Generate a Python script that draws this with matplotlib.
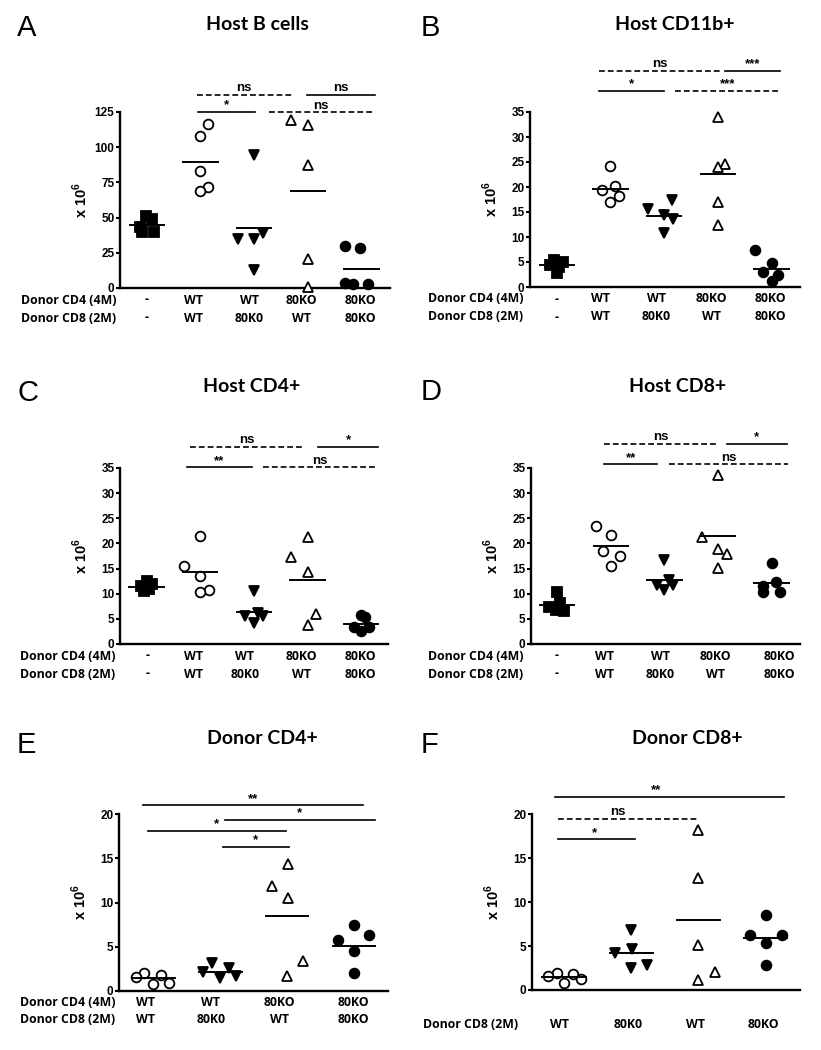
import numpy as np
import matplotlib.pyplot as plt

plt.rcParams['font.family'] = ['Liberation Sans', 'DejaVu Sans']
plt.rcParams['mathtext.fontset'] = 'custom'
plt.rcParams['mathtext.rm'] = 'Liberation Sans'
plt.rcParams['mathtext.bf'] = 'Liberation Sans:bold'

# group labels under the x axis
cd4_5 = ['-', 'WT', 'WT', '80KO', '80KO']
cd8_5 = ['-', 'WT', '80K0', 'WT', '80KO']
cd4_4 = ['WT', 'WT', '80KO', '80KO']
cd8_4 = ['WT', '80K0', 'WT', '80KO']

# cell numbers (x 10^6), one list per group, and the drawn mean of each group
host_b = [[51.3, 48.9, 43.3, 39.8, 39.8],
          [116.7, 108, 82.9, 71.7, 68.7],
          [94.7, 39, 35, 35, 13],
          [119, 116, 87.6, 20.6, 1],
          [30, 28.4, 3.5, 2.5, 2.5]]
host_b_mean = [44.7, 89.5, 42.6, 69, 13.7]

host_cd11b = [[5.5, 5.0, 4.5, 4.0, 2.8],
              [24.2, 20.2, 19.5, 18.2, 17],
              [17.4, 15.7, 14.4, 13.7, 10.8],
              [34, 24.7, 24, 17, 12.4],
              [7.4, 4.8, 3.1, 2.5, 1.3]]
host_cd11b_mean = [4.45, 19.7, 14.2, 22.6, 3.6]

host_cd4 = [[12.5, 12, 11.5, 11, 10.5],
            [21.4, 15.5, 13.6, 10.7, 10.3],
            [10.5, 6.2, 5.5, 5.5, 4.2],
            [21.3, 17.3, 14.4, 6, 3.8],
            [5.8, 5.4, 3.3, 3.3, 2.6]]
host_cd4_mean = [11.4, 14.4, 6.3, 12.7, 4.0]

host_cd8 = [[10.3, 8.2, 7.3, 6.8, 6.6],
            [23.5, 21.7, 18.4, 17.5, 15.6],
            [16.8, 12.8, 11.8, 11.8, 10.8],
            [33.7, 21.2, 18.9, 17.9, 15.1],
            [16.2, 12.4, 11.6, 10.3, 10.3]]
host_cd8_mean = [7.8, 19.4, 12.7, 21.4, 12.1]

donor_cd4 = [[1.97, 1.8, 1.6, 0.83, 0.76],
             [3.1, 2.6, 2.1, 1.7, 1.4],
             [14.4, 11.9, 10.5, 3.4, 1.7],
             [7.45, 6.3, 5.7, 4.5, 1.97]]
donor_cd4_mean = [1.4, 2.15, 8.5, 5.1]

donor_cd8 = [[1.97, 1.8, 1.6, 1.25, 0.76],
             [6.8, 4.7, 4.2, 2.8, 2.5],
             [18.2, 12.7, 5.1, 2.1, 1.1],
             [8.5, 6.3, 6.3, 5.4, 2.8]]
donor_cd8_mean = [1.45, 4.2, 8.0, 5.9]

# significance bars: (y, x from, x to, text, dashed, text x)
bars_a = [(137.3, 1.93, 3.70, 'ns', True, None), (137.3, 3.98, 5.25, 'ns', False, None),
          (125, 1.96, 3.02, '*', False, None), (125, 3.27, 5.22, 'ns', True, None)]
bars_b = [(43.3, 1.78, 4.07, 'ns', True, None), (43.3, 4.14, 5.16, '***', False, None),
          (39.2, 1.78, 2.99, '*', False, None), (39.2, 3.2, 5.16, '***', True, None)]
bars_c = [(39.2, 1.81, 3.92, 'ns', True, None), (39.2, 4.2, 5.32, '*', False, None),
          (35.1, 1.75, 2.96, '**', False, None), (35.1, 3.17, 5.29, 'ns', True, None)]
bars_d = [(39.8, 1.87, 4.0, 'ns', True, None), (39.8, 4.16, 5.28, '*', False, None),
          (35.7, 1.87, 2.87, '**', False, None), (35.7, 3.09, 5.31, 'ns', True, None)]
bars_e = [(21.0, 0.85, 4.14, '**', False, None), (19.4, 2.075, 4.31, '*', False, None),
          (18.1, 0.915, 2.985, '*', False, None), (16.3, 2.04, 3.025, '*', False, None)]
bars_f = [(22.0, 0.866, 4.27, '**', False, 2.37), (19.5, 0.915, 2.99, 'ns', True, 1.8),
          (17.15, 0.915, 2.06, '*', False, 1.45)]

# x offsets of the dots inside each group (layout only)
jit_a = [[-0.01, 0.1, -0.13, -0.08, 0.14], [0.15, 0, 0, 0.15, 0], [0, 0.17, -0.3, 0, 0],
         [-0.31, 0, 0, 0, 0], [-0.31, -0.02, -0.31, -0.16, 0.12]]
jit_b = [[-0.05, 0.12, -0.12, 0.05, 0.0], [0, 0.09, -0.155, 0.155, 0], [0.14, -0.3, 0, 0.17, 0],
         [0, 0.14, 0, 0, 0], [-0.31, 0, -0.155, 0.12, 0]]
jit_c = [[0, 0.1, -0.1, 0.05, -0.05], [0, -0.31, 0, 0.155, -0.01], [0, 0.08, -0.17, 0.17, 0],
         [0, -0.3, 0, 0.16, 0], [0, 0.07, -0.14, 0.14, 0]]
jit_d = [[0, 0.06, -0.15, -0.03, 0.12], [-0.28, 0, -0.14, 0.17, 0], [0, 0.09, -0.14, 0.16, 0],
         [0, -0.3, 0, 0.16, 0], [0, 0.09, -0.16, -0.16, 0.16]]
jit_e = [[-0.14, 0.11, -0.26, 0.235, -0.01], [-0.125, 0.125, -0.25, 0.24, 0],
         [0.01, -0.225, 0.01, 0.24, 0], [0, 0.23, -0.245, 0, 0]]
jit_f = [[-0.11, 0.13, -0.235, 0.25, 0], [0, 0.015, -0.235, 0.235, 0],
         [0, 0, 0, 0.24, 0], [0, -0.235, 0.24, 0, 0]]

# marker, filled
styles5 = [('s', True), ('o', False), ('v', True), ('^', False), ('o', True)]
styles4 = [('o', False), ('v', True), ('^', False), ('o', True)]
msize = {'s': 7.0, 'o': 7.0, 'v': 7.8, '^': 7.8}

CAT_FONT = ['Open Sans', 'DejaVu Sans']
TITLE_FONT = ['Lato', 'DejaVu Sans']

W, H = 821, 1050
fig = plt.figure(figsize=(W / 100, H / 100), dpi=100)


def px_axes(left, right, bottom, top):
    return fig.add_axes([left / W, 1 - bottom / H, (right - left) / W, (bottom - top) / H])


def draw_panel(ax, values, means, jitter, styles, xlim, yticks, bars):
    for i, vals in enumerate(values):
        marker, filled = styles[i]
        xs = [i + 1 + o for o in jitter[i]]
        ax.plot(xs, vals, linestyle='none', marker=marker, ms=msize[marker],
                mfc='black' if filled else 'white', mec='black', mew=1.3,
                clip_on=False, zorder=3)
        ax.plot([i + 1 - 0.32, i + 1 + 0.32], [means[i], means[i]], color='black',
                lw=1.4, zorder=4, clip_on=False)
    for y, x1, x2, txt, dashed, tx in bars:
        ls = (0, (3.5, 1.8)) if dashed else '-'
        ax.plot([x1, x2], [y, y], color='black', lw=1.2, ls=ls, clip_on=False)
        if tx is None:
            tx = (x1 + x2) / 2
        ax.annotate(txt, xy=(tx, y), xytext=(0, 0.3), textcoords='offset points',
                    ha='center', va='bottom', fontsize=9.5, fontweight='bold',
                    annotation_clip=False)
    ax.set_xlim(xlim)
    ax.set_ylim(yticks[0], yticks[-1])
    ax.set_yticks(yticks)
    ax.set_xticks([])
    for side in ['top', 'right']:
        ax.spines[side].set_visible(False)
    for side in ['left', 'bottom']:
        ax.spines[side].set_linewidth(1.7)
    ax.tick_params(axis='y', length=3, width=1.5, pad=1, labelsize=8.5)
    for lab in ax.get_yticklabels():
        lab.set_fontweight('bold')
    ax.set_facecolor('none')
    ax.annotate(r'x 10$^{\mathbf{6}}$', xy=(0, 0.5), xycoords='axes fraction',
                xytext=(-40, 0), textcoords='offset pixels', rotation=90,
                ha='center', va='center', fontsize=10.5, fontweight='bold')


def add_rows(ax, rows, label_x, name_dx=-5):
    for name, labels, dy in rows:
        ax.annotate(name, xy=(0, 0), xycoords='axes fraction', xytext=(name_dx, -dy),
                    textcoords='offset pixels', ha='right', va='center',
                    fontsize=8.8, fontweight='bold', family=CAT_FONT)
        for x, lab in zip(label_x, labels):
            ax.annotate(lab, xy=(x, 0), xycoords=('data', 'axes fraction'), xytext=(0, -dy),
                        textcoords='offset pixels', ha='center', va='center',
                        fontsize=8.8, fontweight='bold', family=CAT_FONT)


def add_heading(letter, lx, ly, title, tx, ty):
    fig.text(lx / W, 1 - ly / H, letter, fontsize=21, ha='left', va='center')
    fig.text(tx / W, 1 - ty / H, title, fontsize=14, fontweight='bold', ha='center',
             va='center', family=TITLE_FONT)


yt_b = [0, 25, 50, 75, 100, 125]
yt_35 = [0, 5, 10, 15, 20, 25, 30, 35]
yt_20 = [0, 5, 10, 15, 20]

# A
ax = px_axes(120, 390, 288, 112)
draw_panel(ax, host_b, host_b_mean, jit_a, styles5, (0.503, 5.53), yt_b, bars_a)
add_rows(ax, [('Donor CD4 (4M)', cd4_5, 12), ('Donor CD8 (2M)', cd8_5, 30)],
         [1, 1.87, 2.91, 3.88, 4.98], -4)
add_heading('A', 17, 28, 'Host B cells', 257, 25)

# B
ax = px_axes(530, 800, 287, 112)
draw_panel(ax, host_cd11b, host_cd11b_mean, jit_b, styles5, (0.503, 5.53), yt_35, bars_b)
add_rows(ax, [('Donor CD4 (4M)', cd4_5, 12), ('Donor CD8 (2M)', cd8_5, 30)],
         [1, 1.82, 2.86, 3.89, 4.98], -7)
add_heading('B', 421, 28, 'Host CD11b+', 675, 25)

# C
ax = px_axes(120, 388, 644, 468)
draw_panel(ax, host_cd4, host_cd4_mean, jit_c, styles5, (0.503, 5.5), yt_35, bars_c)
add_rows(ax, [('Donor CD4 (4M)', cd4_5, 12), ('Donor CD8 (2M)', cd8_5, 30)],
         [1.02, 1.87, 2.83, 3.89, 4.99], -5)
add_heading('C', 17, 393, 'Host CD4+', 252, 387)

# D
ax = px_axes(531, 800, 644, 468)
draw_panel(ax, host_cd8, host_cd8_mean, jit_d, styles5, (0.51, 5.53), yt_35, bars_d)
add_rows(ax, [('Donor CD4 (4M)', cd4_5, 12), ('Donor CD8 (2M)', cd8_5, 30)],
         [0.98, 1.88, 2.92, 3.95, 5.15], -8)
add_heading('D', 421, 392, 'Host CD8+', 678, 387)

# E
ax = px_axes(119, 388, 990.7, 814.3)
draw_panel(ax, donor_cd4, donor_cd4_mean, jit_e, styles4, (0.487, 4.51), yt_20, bars_e)
add_rows(ax, [('Donor CD4 (4M)', cd4_4, 12), ('Donor CD8 (2M)', cd8_4, 29)],
         [0.885, 1.86, 2.89, 4.0], -4)
add_heading('E', 17, 745, 'Donor CD4+', 262, 738)

# F
ax = px_axes(532, 800, 990, 814.3)
draw_panel(ax, donor_cd8, donor_cd8_mean, jit_f, styles4, (0.524, 4.51), yt_20, bars_f)
add_rows(ax, [('Donor CD8 (2M)', cd8_4, 34)], [0.94, 1.95, 2.96, 3.97], -14)
add_heading('F', 421, 745, 'Donor CD8+', 687, 738)

plt.savefig('out.png', dpi=100)
